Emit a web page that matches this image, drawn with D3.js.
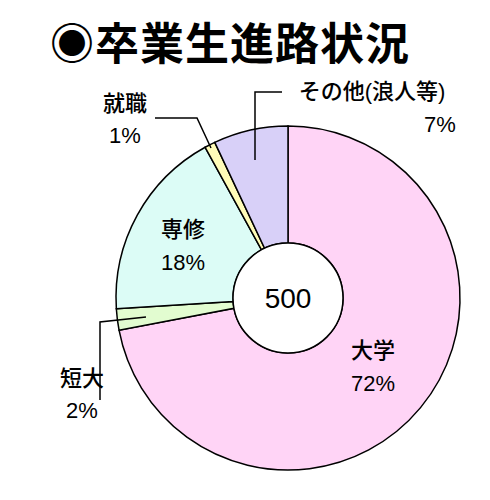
<!DOCTYPE html><html><head><meta charset="utf-8"><script src="https://cdn.jsdelivr.net/npm/d3@7"></script>
<style>body{margin:0;background:#fff}text{font-family:"Liberation Sans","Noto Sans CJK JP",sans-serif}</style></head><body>
<script>
const categories=["大学","短大","専修","就職","その他"];
const values=[72,2,18,1,7];
const colors=["#ffd4f6","#e2fcd0","#dcfcf6","#fffcb8","#d8d0f8"];
const total="500";
const svg=d3.select("body").append("svg").attr("width",490).attr("height",500);
svg.append("text").attr("x",50).attr("y",60).attr("font-size",44).attr("font-weight","bold").attr("letter-spacing",1).text("◉卒業生進路状況");
const cx=288,cy=298,R=172,r=55;
const pie=d3.pie().sort(null)(values);
const arc=d3.arc().innerRadius(r).outerRadius(R);
const g=svg.append("g").attr("transform",`translate(${cx},${cy})`);
g.selectAll("path").data(pie).join("path").attr("d",arc).attr("fill",(d,i)=>colors[i]).attr("stroke","#000").attr("stroke-width",1.5);
g.append("circle").attr("r",r).attr("fill","#fff").attr("stroke","#000").attr("stroke-width",1.5);
g.append("text").attr("text-anchor","middle").attr("y",10).attr("font-size",28).text(total);
const lines=[[[155,118],[197,118],[211,148]],[[282,92],[255,92],[255,160]],[[100,400],[100,322],[146,317]]];
svg.selectAll("path.l").data(lines).join("path").attr("fill","none").attr("stroke","#000").attr("stroke-width",1.5).attr("d",d3.line());
const labels=[[373,358,"大学"],[373,391,"72%"],[82,386,"短大"],[82,418,"2%"],[183,237,"専修"],[183,270,"18%"],[125,111,"就職"],[125,143,"1%"],[372,99,"その他(浪人等)"],[440,132,"7%"]];
svg.selectAll("text.lb").data(labels).join("text").attr("text-anchor","middle").attr("font-size",22).attr("font-weight",500).attr("x",d=>d[0]).attr("y",d=>d[1]).text(d=>d[2]);
</script></body></html>
